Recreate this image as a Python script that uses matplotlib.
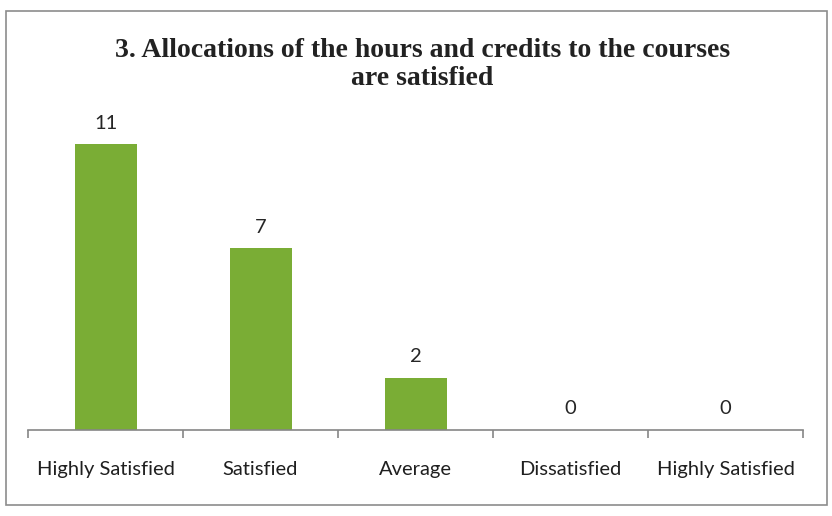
import matplotlib
matplotlib.use("Agg")
import matplotlib.pyplot as plt
from matplotlib.patches import Rectangle
import numpy as np

categories = ["Highly Satisfied", "Satisfied", "Average", "Dissatisfied", "Highly Satisfied"]
counts = [11, 7, 2, 0, 0]
title = "3. Allocations of the hours and credits to the courses\nare satisfied"

W, H = 832, 516
fig = plt.figure(figsize=(W / 100, H / 100), dpi=100)
fig.patch.set_facecolor("white")

# outer frame of the chart
fig.patches.append(Rectangle((6 / W, 11 / H), 821 / W, 494 / H, transform=fig.transFigure,
                             fill=False, edgecolor="#8c8c8c", linewidth=1.2))

ax = fig.add_axes([28 / W, (H - 430) / H, 775 / W, 312 / H])
x = np.arange(len(categories))
bars = ax.bar(x, counts, width=0.4, color="#7aad35")
ax.bar_label(bars, padding=9, fontsize=14.5, color="#262626", family="Lato")

ax.set_xlim(-0.5, len(categories) - 0.5)
ax.set_ylim(0, 12)
ax.set_yticks([])
for s in ["top", "right", "left"]:
    ax.spines[s].set_visible(False)
ax.spines["bottom"].set_color("#868686")
ax.spines["bottom"].set_linewidth(1.2)

ax.set_xticks(x)
ax.set_xticklabels(categories, fontsize=14.5, color="#1f1f1f", family="Lato")
ax.tick_params(axis="x", which="major", length=0, pad=22)
ax.set_xticks(np.arange(-0.5, len(categories)), minor=True)
ax.tick_params(axis="x", which="minor", length=6, color="#868686", width=1.2)

fig.text(0.508, 0.875, title, ha="center", va="center", fontsize=20, fontweight="bold",
         family="Liberation Serif", color="#222222", linespacing=1.12)

fig.savefig("out.png", dpi=100)
